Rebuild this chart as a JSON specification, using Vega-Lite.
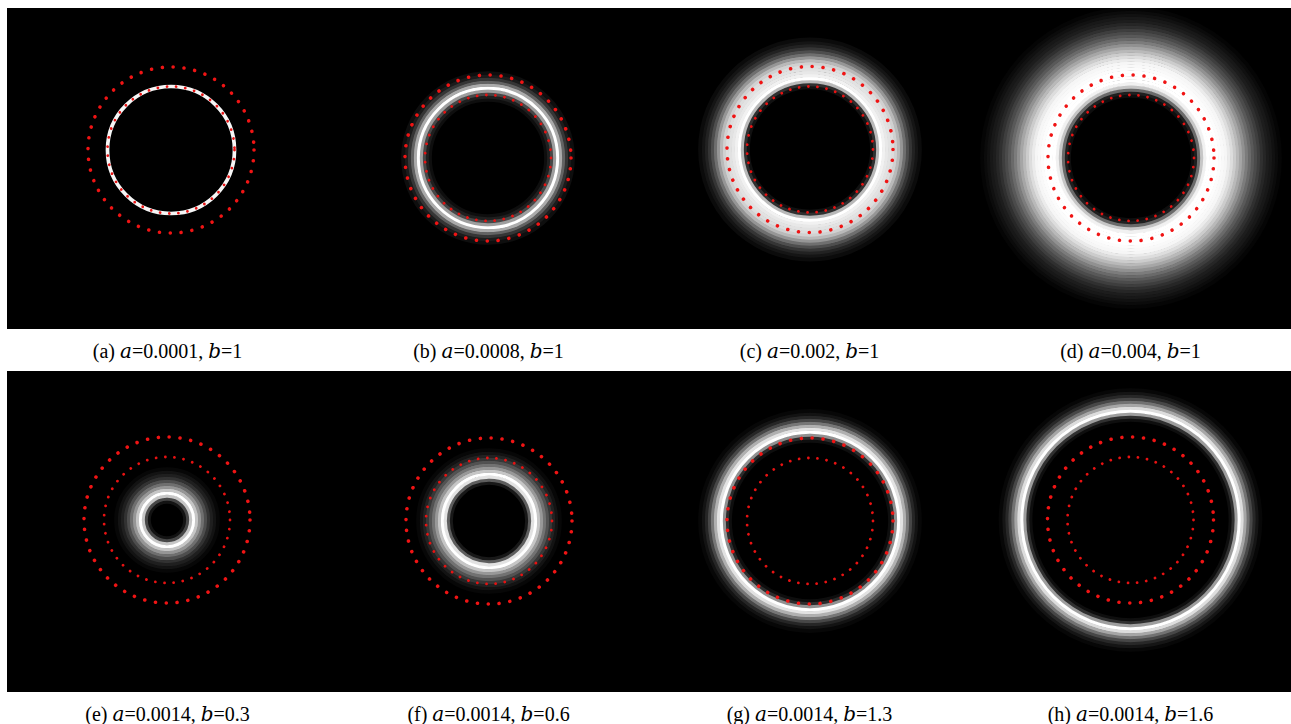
{
  "$schema": "https://vega.github.io/schema/vega-lite/v6.json",
  "padding": {"left": 7, "top": 8, "right": 0, "bottom": 0},
  "background": "white",
  "config": {"view": {"fill": "black", "stroke": null}},
  "datasets": {
    "centers": [
      {"panel": "a", "order": 1, "cx": 3.5, "cy": 18.5, "caption": "(a) 𝑎=0.0001, 𝑏=1"},
      {"panel": "b", "order": 2, "cx": -0.5, "cy": 10.5, "caption": "(b) 𝑎=0.0008, 𝑏=1"},
      {"panel": "c", "order": 3, "cx": 0.5, "cy": 19, "caption": "(c) 𝑎=0.002, 𝑏=1"},
      {"panel": "d", "order": 4, "cx": 0.5, "cy": 10.5, "caption": "(d) 𝑎=0.004, 𝑏=1"},
      {"panel": "e", "order": 5, "cx": -0.5, "cy": 11.5, "caption": "(e) 𝑎=0.0014, 𝑏=0.3"},
      {"panel": "f", "order": 6, "cx": 0.5, "cy": 10.5, "caption": "(f) 𝑎=0.0014, 𝑏=0.6"},
      {"panel": "g", "order": 7, "cx": 0.5, "cy": 10.5, "caption": "(g) 𝑎=0.0014, 𝑏=1.3"},
      {"panel": "h", "order": 8, "cx": 0, "cy": 11.5, "caption": "(h) 𝑎=0.0014, 𝑏=1.6"}
    ],
    "rows": [
      {"panel": "a", "kind": "glow", "r": 63.5, "I": 0.97},
      {"panel": "b", "kind": "glow", "r": 58, "I": 0.04},
      {"panel": "b", "kind": "glow", "r": 61, "I": 0.12},
      {"panel": "b", "kind": "glow", "r": 64, "I": 0.3},
      {"panel": "b", "kind": "glow", "r": 67, "I": 0.65},
      {"panel": "b", "kind": "glow", "r": 70, "I": 1.0},
      {"panel": "b", "kind": "glow", "r": 73, "I": 0.7},
      {"panel": "b", "kind": "glow", "r": 76, "I": 0.42},
      {"panel": "b", "kind": "glow", "r": 79, "I": 0.22},
      {"panel": "b", "kind": "glow", "r": 82, "I": 0.1},
      {"panel": "b", "kind": "glow", "r": 85, "I": 0.04},
      {"panel": "c", "kind": "glow", "r": 62, "I": 0.05},
      {"panel": "c", "kind": "glow", "r": 65, "I": 0.2},
      {"panel": "c", "kind": "glow", "r": 68, "I": 0.75},
      {"panel": "c", "kind": "glow", "r": 71, "I": 1.0},
      {"panel": "c", "kind": "glow", "r": 74, "I": 0.95},
      {"panel": "c", "kind": "glow", "r": 77, "I": 0.92},
      {"panel": "c", "kind": "glow", "r": 80, "I": 0.9},
      {"panel": "c", "kind": "glow", "r": 83, "I": 0.88},
      {"panel": "c", "kind": "glow", "r": 86, "I": 0.84},
      {"panel": "c", "kind": "glow", "r": 89, "I": 0.75},
      {"panel": "c", "kind": "glow", "r": 92, "I": 0.62},
      {"panel": "c", "kind": "glow", "r": 95, "I": 0.47},
      {"panel": "c", "kind": "glow", "r": 98, "I": 0.33},
      {"panel": "c", "kind": "glow", "r": 101, "I": 0.22},
      {"panel": "c", "kind": "glow", "r": 104, "I": 0.13},
      {"panel": "c", "kind": "glow", "r": 107, "I": 0.07},
      {"panel": "c", "kind": "glow", "r": 110, "I": 0.03},
      {"panel": "d", "kind": "glow", "r": 62, "I": 0.04},
      {"panel": "d", "kind": "glow", "r": 65, "I": 0.12},
      {"panel": "d", "kind": "glow", "r": 68, "I": 0.45},
      {"panel": "d", "kind": "glow", "r": 71, "I": 0.8},
      {"panel": "d", "kind": "glow", "r": 74, "I": 0.95},
      {"panel": "d", "kind": "glow", "r": 77, "I": 1.0},
      {"panel": "d", "kind": "glow", "r": 80, "I": 1.0},
      {"panel": "d", "kind": "glow", "r": 83, "I": 1.0},
      {"panel": "d", "kind": "glow", "r": 86, "I": 1.0},
      {"panel": "d", "kind": "glow", "r": 89, "I": 0.99},
      {"panel": "d", "kind": "glow", "r": 92, "I": 0.98},
      {"panel": "d", "kind": "glow", "r": 95, "I": 0.97},
      {"panel": "d", "kind": "glow", "r": 98, "I": 0.93},
      {"panel": "d", "kind": "glow", "r": 101, "I": 0.88},
      {"panel": "d", "kind": "glow", "r": 104, "I": 0.82},
      {"panel": "d", "kind": "glow", "r": 107, "I": 0.75},
      {"panel": "d", "kind": "glow", "r": 110, "I": 0.68},
      {"panel": "d", "kind": "glow", "r": 113, "I": 0.6},
      {"panel": "d", "kind": "glow", "r": 116, "I": 0.52},
      {"panel": "d", "kind": "glow", "r": 119, "I": 0.45},
      {"panel": "d", "kind": "glow", "r": 122, "I": 0.38},
      {"panel": "d", "kind": "glow", "r": 125, "I": 0.32},
      {"panel": "d", "kind": "glow", "r": 128, "I": 0.26},
      {"panel": "d", "kind": "glow", "r": 131, "I": 0.2},
      {"panel": "d", "kind": "glow", "r": 134, "I": 0.15},
      {"panel": "d", "kind": "glow", "r": 137, "I": 0.11},
      {"panel": "d", "kind": "glow", "r": 140, "I": 0.08},
      {"panel": "d", "kind": "glow", "r": 143, "I": 0.05},
      {"panel": "d", "kind": "glow", "r": 146, "I": 0.03},
      {"panel": "d", "kind": "glow", "r": 149, "I": 0.015},
      {"panel": "e", "kind": "glow", "r": 18, "I": 0.06},
      {"panel": "e", "kind": "glow", "r": 21, "I": 0.3},
      {"panel": "e", "kind": "glow", "r": 24, "I": 0.8},
      {"panel": "e", "kind": "glow", "r": 27, "I": 1.0},
      {"panel": "e", "kind": "glow", "r": 30, "I": 0.8},
      {"panel": "e", "kind": "glow", "r": 33, "I": 0.62},
      {"panel": "e", "kind": "glow", "r": 36, "I": 0.47},
      {"panel": "e", "kind": "glow", "r": 39, "I": 0.33},
      {"panel": "e", "kind": "glow", "r": 42, "I": 0.21},
      {"panel": "e", "kind": "glow", "r": 45, "I": 0.12},
      {"panel": "e", "kind": "glow", "r": 48, "I": 0.06},
      {"panel": "e", "kind": "glow", "r": 51, "I": 0.02},
      {"panel": "f", "kind": "glow", "r": 38, "I": 0.08},
      {"panel": "f", "kind": "glow", "r": 41, "I": 0.4},
      {"panel": "f", "kind": "glow", "r": 44, "I": 0.9},
      {"panel": "f", "kind": "glow", "r": 47, "I": 1.0},
      {"panel": "f", "kind": "glow", "r": 50, "I": 0.8},
      {"panel": "f", "kind": "glow", "r": 53, "I": 0.63},
      {"panel": "f", "kind": "glow", "r": 56, "I": 0.48},
      {"panel": "f", "kind": "glow", "r": 59, "I": 0.35},
      {"panel": "f", "kind": "glow", "r": 62, "I": 0.23},
      {"panel": "f", "kind": "glow", "r": 65, "I": 0.13},
      {"panel": "f", "kind": "glow", "r": 68, "I": 0.06},
      {"panel": "f", "kind": "glow", "r": 71, "I": 0.02},
      {"panel": "g", "kind": "glow", "r": 80, "I": 0.04},
      {"panel": "g", "kind": "glow", "r": 83, "I": 0.18},
      {"panel": "g", "kind": "glow", "r": 86, "I": 0.6},
      {"panel": "g", "kind": "glow", "r": 89, "I": 1.0},
      {"panel": "g", "kind": "glow", "r": 92, "I": 0.9},
      {"panel": "g", "kind": "glow", "r": 95, "I": 0.72},
      {"panel": "g", "kind": "glow", "r": 98, "I": 0.5},
      {"panel": "g", "kind": "glow", "r": 101, "I": 0.3},
      {"panel": "g", "kind": "glow", "r": 104, "I": 0.15},
      {"panel": "g", "kind": "glow", "r": 107, "I": 0.06},
      {"panel": "g", "kind": "glow", "r": 110, "I": 0.02},
      {"panel": "h", "kind": "glow", "r": 100, "I": 0.04},
      {"panel": "h", "kind": "glow", "r": 103, "I": 0.2},
      {"panel": "h", "kind": "glow", "r": 106, "I": 0.65},
      {"panel": "h", "kind": "glow", "r": 109, "I": 1.0},
      {"panel": "h", "kind": "glow", "r": 112, "I": 0.88},
      {"panel": "h", "kind": "glow", "r": 115, "I": 0.68},
      {"panel": "h", "kind": "glow", "r": 118, "I": 0.48},
      {"panel": "h", "kind": "glow", "r": 121, "I": 0.3},
      {"panel": "h", "kind": "glow", "r": 124, "I": 0.16},
      {"panel": "h", "kind": "glow", "r": 127, "I": 0.07},
      {"panel": "h", "kind": "glow", "r": 130, "I": 0.02},
      {"panel": "a", "kind": "outer", "r": 83},
      {"panel": "a", "kind": "inner", "r": 63.5},
      {"panel": "b", "kind": "outer", "r": 83},
      {"panel": "b", "kind": "inner", "r": 63},
      {"panel": "c", "kind": "outer", "r": 83},
      {"panel": "c", "kind": "inner", "r": 63},
      {"panel": "d", "kind": "outer", "r": 83},
      {"panel": "d", "kind": "inner", "r": 63},
      {"panel": "e", "kind": "outer", "r": 83},
      {"panel": "e", "kind": "inner", "r": 63},
      {"panel": "f", "kind": "outer", "r": 83},
      {"panel": "f", "kind": "inner", "r": 63},
      {"panel": "g", "kind": "outer", "r": 83},
      {"panel": "g", "kind": "inner", "r": 63},
      {"panel": "h", "kind": "outer", "r": 83},
      {"panel": "h", "kind": "inner", "r": 63}
    ]
  },
  "data": {"name": "rows"},
  "transform": [
    {"lookup": "panel", "from": {"data": {"name": "centers"}, "key": "panel", "fields": ["order", "cx", "cy", "caption"]}}
  ],
  "facet": {
    "field": "caption",
    "type": "nominal",
    "sort": {"field": "order", "op": "min"},
    "header": {
      "title": null,
      "labelOrient": "bottom",
      "labelPadding": 13,
      "labelFont": "Liberation Serif, DejaVu Serif, serif",
      "labelFontSize": 20,
      "labelColor": "black"
    }
  },
  "columns": 4,
  "spacing": {"column": 0, "row": 9},
  "spec": {
    "width": 321,
    "height": 321,
    "encoding": {
      "x": {"field": "cx", "type": "quantitative", "scale": {"domain": [-160.5, 160.5]}, "axis": null},
      "y": {"field": "cy", "type": "quantitative", "scale": {"domain": [-160.5, 160.5]}, "axis": null},
      "size": {"field": "r", "type": "quantitative", "scale": {"type": "pow", "exponent": 2, "domain": [0, 200], "range": [0, 160000]}, "legend": null}
    },
    "layer": [
      {
        "transform": [{"filter": "datum.kind === 'glow'"}],
        "mark": {"type": "point", "shape": "circle", "filled": false, "opacity": 1, "strokeWidth": 3.7, "clip": true},
        "encoding": {
          "stroke": {"field": "I", "type": "quantitative", "scale": {"domain": [0, 1], "range": ["#000000", "#ffffff"]}, "legend": null}
        }
      },
      {
        "transform": [{"filter": "datum.kind === 'outer'"}],
        "mark": {"type": "point", "shape": "circle", "filled": false, "opacity": 1, "stroke": "#f01414", "strokeWidth": 3.6, "strokeCap": "round", "strokeDash": [0.01, 10.9], "clip": true}
      },
      {
        "transform": [{"filter": "datum.kind === 'inner'"}],
        "mark": {"type": "point", "shape": "circle", "filled": false, "opacity": 1, "stroke": "#e81212", "strokeWidth": 2.8, "strokeCap": "round", "strokeDash": [0.01, 9.2], "clip": true}
      }
    ]
  }
}
